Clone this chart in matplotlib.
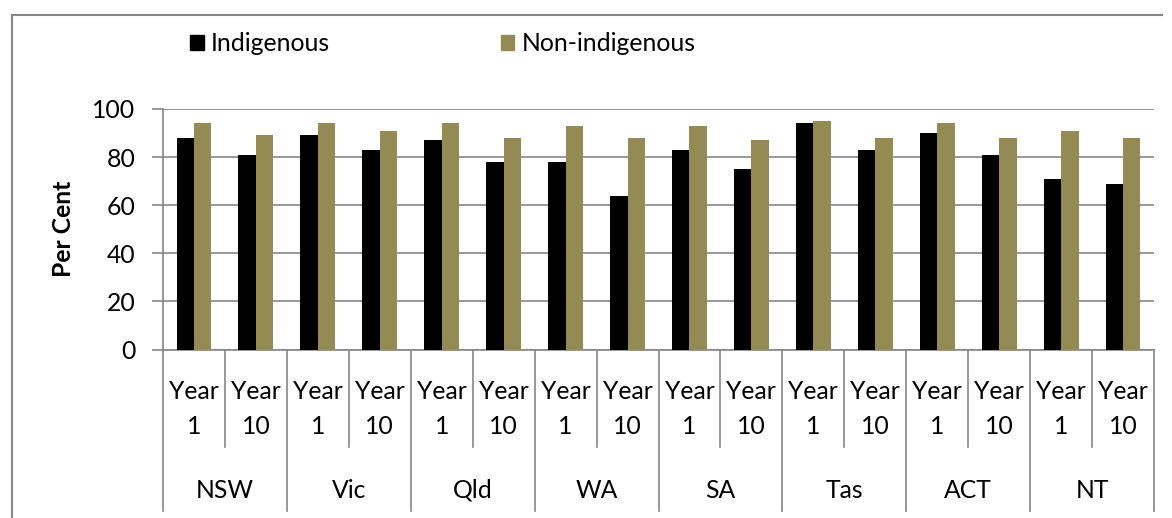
import numpy as np
import matplotlib
matplotlib.use("Agg")
import matplotlib.pyplot as plt
from matplotlib.patches import Patch
from matplotlib.lines import Line2D

states = ["NSW", "Vic", "Qld", "WA", "SA", "Tas", "ACT", "NT"]
years = ["Year\n1", "Year\n10"]
indigenous = [88, 81, 89, 83, 87, 78, 78, 64, 83, 75, 94, 83, 90, 81, 71, 69]
non_indigenous = [94, 89, 94, 91, 94, 88, 93, 88, 93, 87, 95, 88, 94, 88, 91, 88]

BLACK = "#000000"
OLIVE = "#948A54"
GRID = "#868686"


def main():
    plt.rcParams['font.family'] = ['Lato', 'DejaVu Sans']
    fs = 17.8
    W, H = 1172, 518

    fig = plt.figure(figsize=(W / 100, H / 100), dpi=100)
    # posizione dell'area del grafico in pixel
    left, right, top, bottom = 163, 1154, 109, 349.5
    ax = fig.add_axes([left / W, 1 - bottom / H, (right - left) / W, (bottom - top) / H])

    n = len(indigenous)
    x = np.arange(n)
    w = 0.282
    ax.bar(x - w / 2, indigenous, w, color=BLACK, zorder=3)
    ax.bar(x + w / 2, non_indigenous, w, color=OLIVE, zorder=3)

    ax.set_xlim(-0.5, n - 0.5)
    ax.set_ylim(0, 100)
    ax.set_yticks(range(0, 101, 20))
    ax.yaxis.grid(True, color=GRID, linewidth=1.2, zorder=0)
    ax.tick_params(axis='y', length=8, width=1.2, color=GRID, pad=12, labelsize=fs)
    ax.tick_params(axis='x', length=0, labelbottom=False)
    for s in ["top", "right"]:
        ax.spines[s].set_visible(False)
    for s in ["left", "bottom"]:
        ax.spines[s].set_color(GRID)
        ax.spines[s].set_linewidth(1.2)

    ax.set_ylabel("Per Cent", fontsize=fs, fontweight='bold', labelpad=12)

    # etichette a due livelli sotto l'asse x
    h_ax = bottom - top
    trans = ax.get_xaxis_transform()
    for i in range(n):
        ax.text(i, -(409 - bottom) / h_ax, years[i % 2], transform=trans, ha='center',
                va='center', fontsize=fs, linespacing=1.6)
    for j, st in enumerate(states):
        ax.text(2 * j + 0.5, -(490 - bottom) / h_ax, st, transform=trans, ha='center',
                va='center', fontsize=fs)
    for b in range(n + 1):
        y_end = 511 if b % 2 == 0 else 447
        ax.add_line(Line2D([b - 0.5, b - 0.5], [0, -(y_end - bottom) / h_ax], transform=trans,
                           color=GRID, linewidth=1.2, clip_on=False))

    # legenda
    handles = [Patch(color=BLACK, label="Indigenous"), Patch(color=OLIVE, label="Non-indigenous")]
    fig.legend(handles=handles, loc='center left', bbox_to_anchor=(190 / W, 1 - 43.5 / H),
               ncol=2, frameon=False, fontsize=fs, borderpad=0, borderaxespad=0,
               handlelength=0.55, handleheight=0.55, handletextpad=0.3, columnspacing=6.9)

    # bordo esterno
    fig.add_artist(Line2D([12 / W, 12 / W], [0, 1 - 15 / H], transform=fig.transFigure,
                          color=GRID, linewidth=1.5))
    fig.add_artist(Line2D([12 / W, 1162 / W], [1 - 15 / H, 1 - 15 / H], transform=fig.transFigure,
                          color=GRID, linewidth=1.5))

    fig.savefig("out.png", dpi=100)


if __name__ == '__main__':
    main()
